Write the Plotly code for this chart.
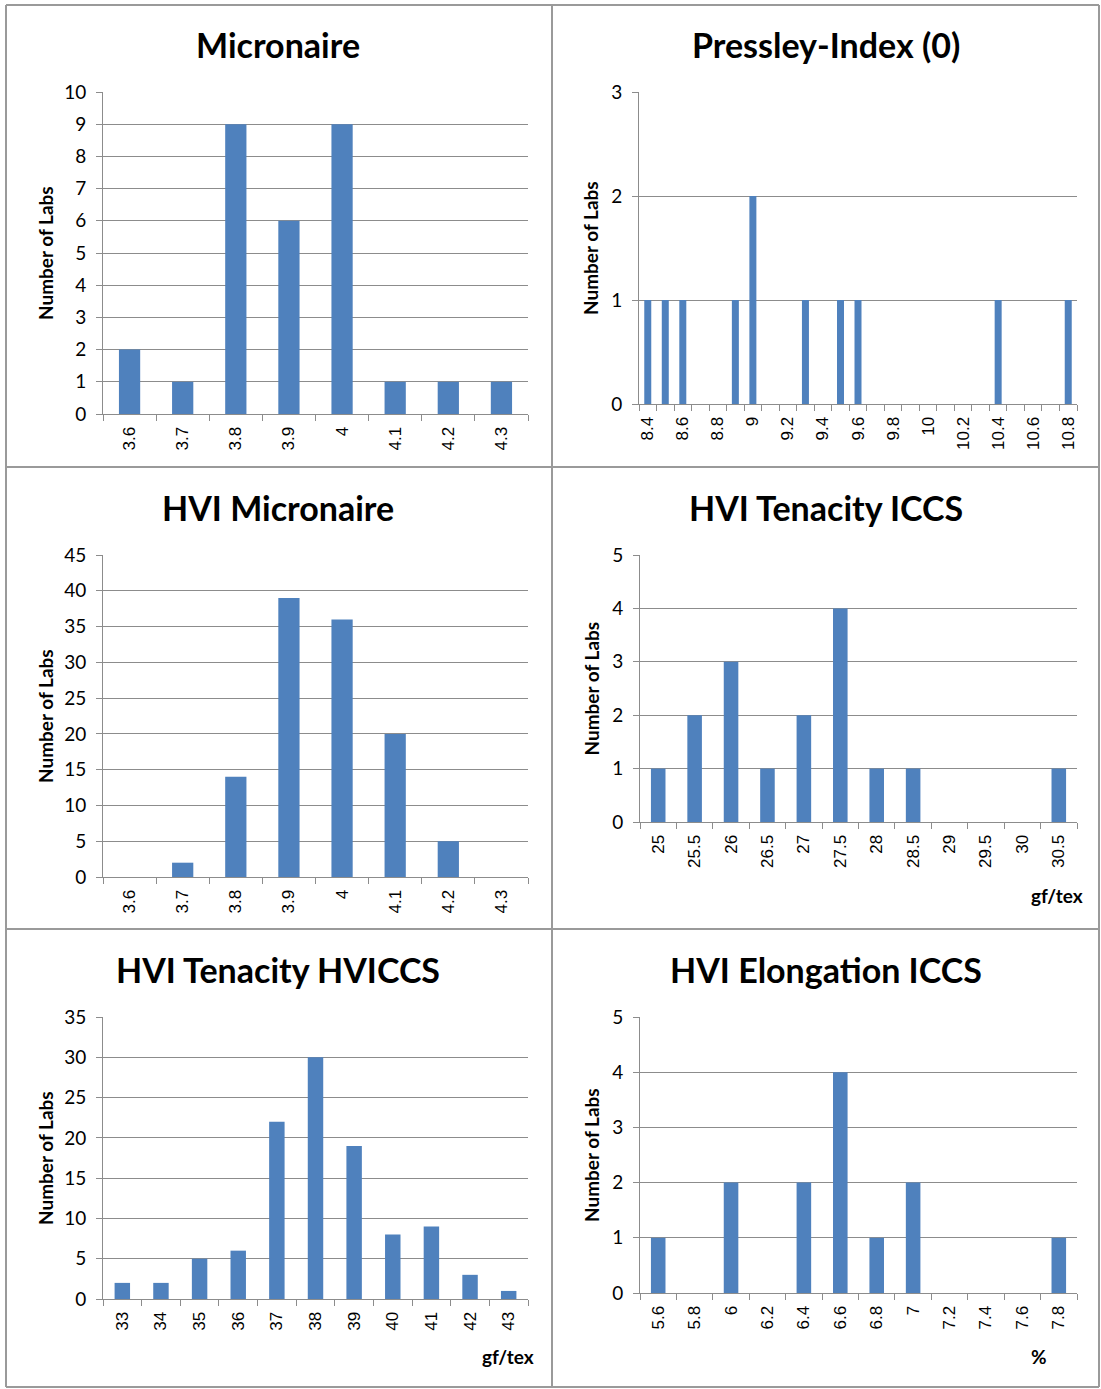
import plotly.graph_objects as go

W, H = 1101, 1389
BAR = "#4F81BD"
GRID = "#8C8C8C"
TITLE_FONT = "Lato"
TICK_FONT = "Liberation Sans"

# ---------------- data ----------------
mic_cats = ["3.6", "3.7", "3.8", "3.9", "4", "4.1", "4.2", "4.3"]
mic_vals = [2, 1, 9, 6, 9, 1, 1, 1]

pres_cats = ["8.4", "8.5", "8.6", "8.7", "8.8", "8.9", "9", "9.1", "9.2", "9.3",
             "9.4", "9.5", "9.6", "9.7", "9.8", "9.9", "10", "10.1", "10.2", "10.3",
             "10.4", "10.5", "10.6", "10.7", "10.8"]
pres_vals = [1, 1, 1, 0, 0, 1, 2, 0, 0, 1, 0, 1, 1, 0, 0, 0, 0, 0, 0, 0, 1, 0, 0, 0, 1]
pres_labels = ["8.4", "", "8.6", "", "8.8", "", "9", "", "9.2", "", "9.4", "", "9.6", "",
               "9.8", "", "10", "", "10.2", "", "10.4", "", "10.6", "", "10.8"]

hvimic_cats = ["3.6", "3.7", "3.8", "3.9", "4", "4.1", "4.2", "4.3"]
hvimic_vals = [0, 2, 14, 39, 36, 20, 5, 0]

teniccs_cats = ["25", "25.5", "26", "26.5", "27", "27.5", "28", "28.5", "29", "29.5", "30", "30.5"]
teniccs_vals = [1, 2, 3, 1, 2, 4, 1, 1, 0, 0, 0, 1]

tenhv_cats = ["33", "34", "35", "36", "37", "38", "39", "40", "41", "42", "43"]
tenhv_vals = [2, 2, 5, 6, 22, 30, 19, 8, 9, 3, 1]

elong_cats = ["5.6", "5.8", "6", "6.2", "6.4", "6.6", "6.8", "7", "7.2", "7.4", "7.6", "7.8"]
elong_vals = [1, 0, 2, 0, 2, 4, 1, 2, 0, 0, 0, 1]

titles = ["Micronaire", "Pressley-Index (0)", "HVI Micronaire",
          "HVI Tenacity ICCS", "HVI Tenacity HVICCS", "HVI Elongation ICCS"]
units = ["", "", "", "gf/tex", "gf/tex", "%"]
y_max = [10, 3, 45, 5, 35, 5]
y_step = [1, 1, 5, 1, 5, 1]

# ---------------- layout geometry (pixels) ----------------
# (x_left, x_right, y_top, y_bottom) of each plot area
boxes = [
    (103, 528, 92, 414),
    (639, 1077, 92, 404),
    (103, 528, 555, 877),
    (640, 1077, 555, 822),
    (103, 528, 1017, 1299),
    (640, 1077, 1017, 1293),
]
title_y = [45, 45, 507, 507, 969, 969]
title_x = [278, 826, 278, 826, 278, 826]
ytitle_x = [45, 591, 45, 591, 45, 591]
unit_pos = [None, None, None, (1057, 895), (508, 1356), (1039, 1356)]


def px(x):
    return x / W


def py(y):
    return 1 - y / H


panels = [
    (mic_cats, mic_vals, None),
    (pres_cats, pres_vals, pres_labels),
    (hvimic_cats, hvimic_vals, None),
    (teniccs_cats, teniccs_vals, None),
    (tenhv_cats, tenhv_vals, None),
    (elong_cats, elong_vals, None),
]

fig = go.Figure()
annotations = []
layout = {}

for i, (cats, vals, labels) in enumerate(panels):
    n = i + 1
    xa = "x" if n == 1 else f"x{n}"
    ya = "y" if n == 1 else f"y{n}"
    fig.add_trace(go.Bar(x=cats, y=vals, xaxis=xa, yaxis=ya,
                         marker=dict(color=BAR, line=dict(width=0)),
                         showlegend=False, hoverinfo="x+y"))
    x0, x1, yt, yb = boxes[i]
    xkey = "xaxis" if n == 1 else f"xaxis{n}"
    ykey = "yaxis" if n == 1 else f"yaxis{n}"
    xdict = dict(
        domain=[px(x0), px(x1)], anchor=ya, type="category",
        categoryorder="array", categoryarray=cats,
        range=[-0.5, len(cats) - 0.5], automargin=False,
        showgrid=False, showline=True, linecolor=GRID, linewidth=1,
        ticks="outside", ticklen=6, tickcolor=GRID, tickwidth=1,
        tickson="boundaries", tickangle=-90,
        tickfont=dict(family=TICK_FONT, size=17, color="#000000"),
        ticklabelstandoff=5, zeroline=False, fixedrange=True,
    )
    if labels is not None:
        xdict.update(tickmode="array", tickvals=cats, ticktext=labels)
    else:
        xdict.update(tickmode="linear", dtick=1)
    layout[xkey] = xdict
    layout[ykey] = dict(
        domain=[py(yb), py(yt)], anchor=xa, range=[0, y_max[i]], automargin=False,
        tickmode="linear", tick0=0, dtick=y_step[i],
        showgrid=True, gridcolor=GRID, gridwidth=1,
        showline=True, linecolor=GRID, linewidth=1,
        ticks="outside", ticklen=6, tickcolor=GRID, tickwidth=1,
        tickfont=dict(family=TITLE_FONT, size=19, color="#000000"),
        ticklabelstandoff=6, zeroline=False, fixedrange=True,
    )
    annotations.append(dict(
        text=f"<b>{titles[i]}</b>", x=px(title_x[i]), y=py(title_y[i]),
        xref="paper", yref="paper", showarrow=False, xanchor="center", yanchor="middle",
        font=dict(family=TITLE_FONT, size=34, color="#000000")))
    annotations.append(dict(
        text="<b>Number of Labs</b>", x=px(ytitle_x[i]), y=py((yt + yb) / 2),
        xref="paper", yref="paper", showarrow=False, textangle=-90,
        xanchor="center", yanchor="middle",
        font=dict(family=TITLE_FONT, size=19, color="#000000")))
    if unit_pos[i] is not None:
        ux, uy = unit_pos[i]
        annotations.append(dict(
            text=f"<b>{units[i]}</b>", x=px(ux), y=py(uy),
            xref="paper", yref="paper", showarrow=False,
            xanchor="center", yanchor="middle",
            font=dict(family=TITLE_FONT, size=19, color="#000000")))

# panel separator grid lines
shapes = []
BORDER = "#9A9A9A"
for xv in [6, 552, 1099]:
    shapes.append(dict(type="line", xref="paper", yref="paper",
                       x0=px(xv), x1=px(xv), y0=py(5), y1=py(1387),
                       line=dict(color=BORDER, width=2)))
for yv in [5, 467, 929, 1387]:
    shapes.append(dict(type="line", xref="paper", yref="paper",
                       x0=px(6), x1=px(1099), y0=py(yv), y1=py(yv),
                       line=dict(color=BORDER, width=2)))

fig.update_layout(
    width=W, height=H, margin=dict(l=0, r=0, t=0, b=0, pad=0, autoexpand=False),
    paper_bgcolor="white", plot_bgcolor="white",
    bargap=0.6, annotations=annotations, shapes=shapes,
    showlegend=False, **layout,
)

fig.write_html(
    "out.html",
    config={"displayModeBar": False},
    post_script=(
        "var d=document.getElementById('{plot_id}');"
        "d.style.position='fixed';d.style.top='0px';d.style.left='0px';"
        "document.body.style.margin='0px';"
        "document.documentElement.style.overflow='hidden';"
        "document.body.style.overflow='hidden';"
    ),
)
